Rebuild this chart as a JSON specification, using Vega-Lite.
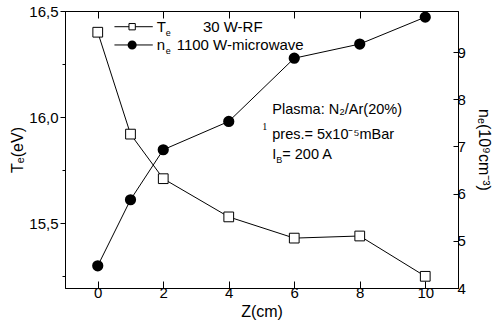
{
  "$schema": "https://vega.github.io/schema/vega-lite/v6.json",
  "width": 393,
  "height": 277,
  "autosize": {"type": "none"},
  "padding": {"left": 65, "top": 11, "right": 38, "bottom": 35},
  "background": "white",
  "config": {
    "font": "Liberation Sans",
    "view": {"stroke": "black", "strokeWidth": 1},
    "axis": {
      "grid": false,
      "domainColor": "black",
      "tickColor": "black",
      "labelColor": "black",
      "titleColor": "black",
      "labelFont": "Liberation Sans",
      "titleFont": "Liberation Sans",
      "labelFontSize": 15,
      "titleFontSize": 15,
      "titleFontWeight": "normal"
    }
  },
  "datasets": {
    "te": [
      {"z": 0, "Te": 16.40},
      {"z": 1, "Te": 15.92},
      {"z": 2, "Te": 15.71},
      {"z": 4, "Te": 15.53},
      {"z": 6, "Te": 15.43},
      {"z": 8, "Te": 15.44},
      {"z": 10, "Te": 15.25}
    ],
    "ne": [
      {"z": 0, "ne": 4.47},
      {"z": 1, "ne": 5.87},
      {"z": 2, "ne": 6.93},
      {"z": 4, "ne": 7.53},
      {"z": 6, "ne": 8.87},
      {"z": 8, "ne": 9.17},
      {"z": 10, "ne": 9.74}
    ]
  },
  "layer": [
    {
      "layer": [
        {
          "data": {"name": "te"},
          "mark": {"type": "line", "color": "black", "strokeWidth": 1},
          "encoding": {
            "x": {
              "field": "z", "type": "quantitative",
              "scale": {"domain": [-1, 11], "nice": false, "zero": false},
              "axis": {
                "orient": "bottom",
                "values": [0, 1, 2, 3, 4, 5, 6, 7, 8, 9, 10],
                "labelExpr": "datum.value % 2 === 0 ? datum.label : ''",
                "tickSize": {"condition": {"test": "datum.value % 2 !== 0", "value": -4}, "value": -7},
                "labelPadding": 4,
                "title": "Z(cm)",
                "titleFontSize": 16,
                "titlePadding": 3
              }
            },
            "y": {
              "field": "Te", "type": "quantitative",
              "scale": {"domain": [15.195, 16.5], "nice": false, "zero": false},
              "axis": {
                "orient": "left",
                "values": [15.25, 15.5, 15.75, 16, 16.25, 16.5],
                "labelExpr": "(datum.value * 2) % 1 === 0 ? replace(format(datum.value, '.1f'), '.', ',') : ''",
                "tickSize": {"condition": {"test": "(datum.value * 2) % 1 !== 0", "value": 3}, "value": 5},
                "labelPadding": 2,
                "title": "Tₑ(eV)",
                "titleFontSize": 16,
                "titlePadding": 3
              }
            }
          }
        },
        {
          "data": {"name": "te"},
          "mark": {"type": "point", "shape": "square", "filled": true, "fill": "white", "stroke": "black", "strokeWidth": 1, "size": 95, "opacity": 1},
          "encoding": {
            "x": {"field": "z", "type": "quantitative"},
            "y": {"field": "Te", "type": "quantitative"}
          }
        },
        {
          "data": {"values": [{}]},
          "mark": {"type": "rule", "color": "black", "strokeWidth": 1},
          "encoding": {"x": {"datum": 0.51}, "x2": {"datum": 1.68}, "y": {"datum": 16.426}}
        },
        {
          "data": {"values": [{}]},
          "mark": {"type": "point", "shape": "square", "filled": true, "fill": "white", "stroke": "black", "strokeWidth": 1, "size": 40, "opacity": 1},
          "encoding": {"x": {"datum": 1.05}, "y": {"datum": 16.426}}
        },
        {
          "data": {"values": [{}]},
          "mark": {"type": "rule", "color": "black", "strokeWidth": 1},
          "encoding": {"x": {"datum": 0.51}, "x2": {"datum": 1.68}, "y": {"datum": 16.34}}
        },
        {
          "data": {"values": [{}]},
          "mark": {"type": "point", "shape": "circle", "filled": true, "fill": "black", "stroke": "black", "size": 50, "opacity": 1},
          "encoding": {"x": {"datum": 1.05}, "y": {"datum": 16.34}}
        },
        {
          "data": {"values": [{}]},
          "mark": {"type": "text", "text": "T", "align": "left", "baseline": "middle", "fontSize": 15, "color": "black"},
          "encoding": {"x": {"datum": 1.8}, "y": {"datum": 16.426}}
        },
        {
          "data": {"values": [{}]},
          "mark": {"type": "text", "text": "e", "align": "left", "baseline": "middle", "fontSize": 9, "color": "black", "dx": 9, "dy": 6},
          "encoding": {"x": {"datum": 1.8}, "y": {"datum": 16.426}}
        },
        {
          "data": {"values": [{}]},
          "mark": {"type": "text", "text": "30 W-RF", "align": "left", "baseline": "middle", "fontSize": 15, "color": "black"},
          "encoding": {"x": {"datum": 3.21}, "y": {"datum": 16.426}}
        },
        {
          "data": {"values": [{}]},
          "mark": {"type": "text", "text": "n", "align": "left", "baseline": "middle", "fontSize": 15, "color": "black"},
          "encoding": {"x": {"datum": 1.8}, "y": {"datum": 16.34}}
        },
        {
          "data": {"values": [{}]},
          "mark": {"type": "text", "text": "e", "align": "left", "baseline": "middle", "fontSize": 9, "color": "black", "dx": 9, "dy": 6},
          "encoding": {"x": {"datum": 1.8}, "y": {"datum": 16.34}}
        },
        {
          "data": {"values": [{}]},
          "mark": {"type": "text", "text": "1100 W-microwave", "align": "left", "baseline": "middle", "fontSize": 15, "color": "black"},
          "encoding": {"x": {"datum": 2.41}, "y": {"datum": 16.34}}
        },
        {
          "data": {"values": [{}]},
          "mark": {"type": "text", "text": "Plasma: N₂/Ar(20%)", "align": "left", "baseline": "middle", "fontSize": 14.5, "color": "black"},
          "encoding": {"x": {"datum": 5.33}, "y": {"datum": 16.034}}
        },
        {
          "data": {"values": [{}]},
          "mark": {"type": "text", "text": "pres.= 5x10⁻⁵mBar", "align": "left", "baseline": "middle", "fontSize": 14.5, "color": "black"},
          "encoding": {"x": {"datum": 5.33}, "y": {"datum": 15.917}}
        },
        {
          "data": {"values": [{}]},
          "mark": {"type": "text", "text": "I", "align": "left", "baseline": "middle", "fontSize": 14.5, "color": "black"},
          "encoding": {"x": {"datum": 5.33}, "y": {"datum": 15.823}}
        },
        {
          "data": {"values": [{}]},
          "mark": {"type": "text", "text": "B", "align": "left", "baseline": "middle", "fontSize": 9, "color": "black", "dx": 4, "dy": 5},
          "encoding": {"x": {"datum": 5.33}, "y": {"datum": 15.823}}
        },
        {
          "data": {"values": [{}]},
          "mark": {"type": "text", "text": "= 200 A", "align": "left", "baseline": "middle", "fontSize": 14.5, "color": "black", "dx": 10},
          "encoding": {"x": {"datum": 5.33}, "y": {"datum": 15.823}}
        },
        {
          "data": {"values": [{}]},
          "mark": {"type": "text", "text": "1", "align": "left", "baseline": "middle", "fontSize": 10, "font": "Liberation Serif", "fill": "black", "color": "black"},
          "encoding": {"x": {"datum": 5.02}, "y": {"datum": 15.954}}
        }
      ]
    },
    {
      "data": {"name": "ne"},
      "layer": [
        {
          "mark": {"type": "line", "color": "black", "strokeWidth": 1},
          "encoding": {
            "x": {
              "field": "z", "type": "quantitative",
              "axis": {
                "orient": "top",
                "values": [0, 1, 2, 3, 4, 5, 6, 7, 8, 9, 10],
                "labels": false,
                "tickSize": {"condition": {"test": "datum.value % 2 !== 0", "value": -4}, "value": -7},
                "title": null
              }
            },
            "y": {
              "field": "ne", "type": "quantitative",
              "scale": {"domain": [4, 9.87], "nice": false, "zero": false},
              "axis": {
                "orient": "right",
                "values": [4, 4.5, 5, 5.5, 6, 6.5, 7, 7.5, 8, 8.5, 9, 9.5],
                "labelExpr": "datum.value % 1 === 0 ? datum.label : ''",
                "tickSize": {"condition": {"test": "datum.value % 1 !== 0", "value": -3}, "value": -5},
                "labelPadding": 4,
                "title": "nₑ(10⁹cm⁻³)",
                "titleFontSize": 16,
                "titlePadding": 10
              }
            }
          }
        },
        {
          "mark": {"type": "point", "shape": "circle", "filled": true, "fill": "black", "stroke": "black", "size": 85, "opacity": 1},
          "encoding": {
            "x": {"field": "z", "type": "quantitative"},
            "y": {"field": "ne", "type": "quantitative"}
          }
        }
      ]
    }
  ],
  "resolve": {"scale": {"y": "independent"}, "axis": {"x": "independent"}}
}
